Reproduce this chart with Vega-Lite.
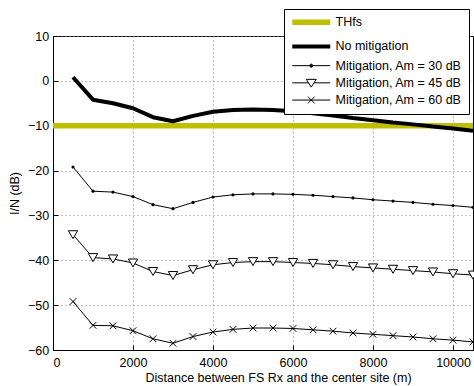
{
  "$schema": "https://vega.github.io/schema/vega-lite/v6.json",
  "width": 420,
  "height": 314,
  "autosize": {"type": "none"},
  "padding": {"left": 53, "top": 36, "right": 1, "bottom": 36},
  "config": {
    "font": "Liberation Sans",
    "view": {"stroke": "black", "strokeWidth": 1},
    "axis": {
      "domainColor": "black", "tickColor": "black", "labelColor": "black", "titleColor": "black",
      "labelFontSize": 12.5, "titleFontSize": 12.5, "titleFontWeight": "normal",
      "gridColor": "#8a8a8a", "gridDash": [1, 3], "gridWidth": 1,
      "tickSize": -5
    }
  },
  "datasets": {
    "d": [
      {"s": "THfs", "x": 0, "y": -10}, {"s": "THfs", "x": 10500, "y": -10},
      {"s": "No mitigation", "x": 500, "y": 0.8}, {"s": "No mitigation", "x": 1000, "y": -4.2}, {"s": "No mitigation", "x": 1500, "y": -5.0}, {"s": "No mitigation", "x": 2000, "y": -6.1}, {"s": "No mitigation", "x": 2500, "y": -8.1}, {"s": "No mitigation", "x": 3000, "y": -9.0}, {"s": "No mitigation", "x": 3500, "y": -7.8}, {"s": "No mitigation", "x": 4000, "y": -6.9}, {"s": "No mitigation", "x": 4500, "y": -6.5}, {"s": "No mitigation", "x": 5000, "y": -6.4}, {"s": "No mitigation", "x": 5500, "y": -6.5}, {"s": "No mitigation", "x": 6000, "y": -6.8}, {"s": "No mitigation", "x": 6500, "y": -7.2}, {"s": "No mitigation", "x": 7000, "y": -7.7}, {"s": "No mitigation", "x": 7500, "y": -8.3}, {"s": "No mitigation", "x": 8000, "y": -8.8}, {"s": "No mitigation", "x": 8500, "y": -9.3}, {"s": "No mitigation", "x": 9000, "y": -9.7}, {"s": "No mitigation", "x": 9500, "y": -10.2}, {"s": "No mitigation", "x": 10000, "y": -10.6}, {"s": "No mitigation", "x": 10500, "y": -11.1},
      {"s": "Mitigation, Am = 30 dB", "x": 500, "y": -19.2}, {"s": "Mitigation, Am = 30 dB", "x": 1000, "y": -24.6}, {"s": "Mitigation, Am = 30 dB", "x": 1500, "y": -24.8}, {"s": "Mitigation, Am = 30 dB", "x": 2000, "y": -25.8}, {"s": "Mitigation, Am = 30 dB", "x": 2500, "y": -27.6}, {"s": "Mitigation, Am = 30 dB", "x": 3000, "y": -28.5}, {"s": "Mitigation, Am = 30 dB", "x": 3500, "y": -27.1}, {"s": "Mitigation, Am = 30 dB", "x": 4000, "y": -25.9}, {"s": "Mitigation, Am = 30 dB", "x": 4500, "y": -25.4}, {"s": "Mitigation, Am = 30 dB", "x": 5000, "y": -25.2}, {"s": "Mitigation, Am = 30 dB", "x": 5500, "y": -25.2}, {"s": "Mitigation, Am = 30 dB", "x": 6000, "y": -25.3}, {"s": "Mitigation, Am = 30 dB", "x": 6500, "y": -25.5}, {"s": "Mitigation, Am = 30 dB", "x": 7000, "y": -25.8}, {"s": "Mitigation, Am = 30 dB", "x": 7500, "y": -26.1}, {"s": "Mitigation, Am = 30 dB", "x": 8000, "y": -26.5}, {"s": "Mitigation, Am = 30 dB", "x": 8500, "y": -26.8}, {"s": "Mitigation, Am = 30 dB", "x": 9000, "y": -27.1}, {"s": "Mitigation, Am = 30 dB", "x": 9500, "y": -27.5}, {"s": "Mitigation, Am = 30 dB", "x": 10000, "y": -27.8}, {"s": "Mitigation, Am = 30 dB", "x": 10500, "y": -28.2},
      {"s": "Mitigation, Am = 45 dB", "x": 500, "y": -34.3}, {"s": "Mitigation, Am = 45 dB", "x": 1000, "y": -39.4}, {"s": "Mitigation, Am = 45 dB", "x": 1500, "y": -39.7}, {"s": "Mitigation, Am = 45 dB", "x": 2000, "y": -40.6}, {"s": "Mitigation, Am = 45 dB", "x": 2500, "y": -42.5}, {"s": "Mitigation, Am = 45 dB", "x": 3000, "y": -43.4}, {"s": "Mitigation, Am = 45 dB", "x": 3500, "y": -42.1}, {"s": "Mitigation, Am = 45 dB", "x": 4000, "y": -41.0}, {"s": "Mitigation, Am = 45 dB", "x": 4500, "y": -40.5}, {"s": "Mitigation, Am = 45 dB", "x": 5000, "y": -40.3}, {"s": "Mitigation, Am = 45 dB", "x": 5500, "y": -40.3}, {"s": "Mitigation, Am = 45 dB", "x": 6000, "y": -40.5}, {"s": "Mitigation, Am = 45 dB", "x": 6500, "y": -40.7}, {"s": "Mitigation, Am = 45 dB", "x": 7000, "y": -41.0}, {"s": "Mitigation, Am = 45 dB", "x": 7500, "y": -41.4}, {"s": "Mitigation, Am = 45 dB", "x": 8000, "y": -41.7}, {"s": "Mitigation, Am = 45 dB", "x": 8500, "y": -42.0}, {"s": "Mitigation, Am = 45 dB", "x": 9000, "y": -42.3}, {"s": "Mitigation, Am = 45 dB", "x": 9500, "y": -42.6}, {"s": "Mitigation, Am = 45 dB", "x": 10000, "y": -43.0}, {"s": "Mitigation, Am = 45 dB", "x": 10500, "y": -43.3},
      {"s": "Mitigation, Am = 60 dB", "x": 500, "y": -49.2}, {"s": "Mitigation, Am = 60 dB", "x": 1000, "y": -54.5}, {"s": "Mitigation, Am = 60 dB", "x": 1500, "y": -54.6}, {"s": "Mitigation, Am = 60 dB", "x": 2000, "y": -55.7}, {"s": "Mitigation, Am = 60 dB", "x": 2500, "y": -57.5}, {"s": "Mitigation, Am = 60 dB", "x": 3000, "y": -58.5}, {"s": "Mitigation, Am = 60 dB", "x": 3500, "y": -57.0}, {"s": "Mitigation, Am = 60 dB", "x": 4000, "y": -56.0}, {"s": "Mitigation, Am = 60 dB", "x": 4500, "y": -55.4}, {"s": "Mitigation, Am = 60 dB", "x": 5000, "y": -55.1}, {"s": "Mitigation, Am = 60 dB", "x": 5500, "y": -55.1}, {"s": "Mitigation, Am = 60 dB", "x": 6000, "y": -55.2}, {"s": "Mitigation, Am = 60 dB", "x": 6500, "y": -55.5}, {"s": "Mitigation, Am = 60 dB", "x": 7000, "y": -55.8}, {"s": "Mitigation, Am = 60 dB", "x": 7500, "y": -56.2}, {"s": "Mitigation, Am = 60 dB", "x": 8000, "y": -56.5}, {"s": "Mitigation, Am = 60 dB", "x": 8500, "y": -56.8}, {"s": "Mitigation, Am = 60 dB", "x": 9000, "y": -57.1}, {"s": "Mitigation, Am = 60 dB", "x": 9500, "y": -57.5}, {"s": "Mitigation, Am = 60 dB", "x": 10000, "y": -57.8}, {"s": "Mitigation, Am = 60 dB", "x": 10500, "y": -58.2}
    ]
  },
  "data": {"name": "d"},
  "encoding": {
    "x": {
      "field": "x", "type": "quantitative",
      "scale": {"domain": [0, 10500], "nice": false, "zero": false},
      "axis": {"values": [0, 2000, 4000, 6000, 8000, 10000], "format": "d", "labelPadding": 11, "title": "Distance between FS Rx and the center site (m)", "titleX": 225, "titleY": 31.5, "titleBaseline": "alphabetic"}
    },
    "y": {
      "field": "y", "type": "quantitative",
      "scale": {"domain": [-60, 10], "nice": false, "zero": false},
      "axis": {"values": [-60, -50, -40, -30, -20, -10, 0, 10], "format": "d", "labelPadding": 9.3, "title": "I/N (dB)", "titleX": -39, "titleY": 157, "titleAngle": -90, "titleBaseline": "middle", "titleAlign": "center"}
    }
  },
  "layer": [
    {
      "transform": [{"filter": "datum.s === 'THfs'"}],
      "mark": {"type": "line", "color": "#BFBF00", "strokeWidth": 5.5, "strokeCap": "butt"}
    },
    {
      "transform": [{"filter": "datum.s === 'No mitigation'"}],
      "mark": {"type": "line", "color": "black", "strokeWidth": 4, "strokeJoin": "round", "strokeCap": "butt"}
    },
    {
      "transform": [{"filter": "indexof(datum.s, 'Am') >= 0"}],
      "mark": {"type": "line", "color": "black", "strokeWidth": 1},
      "encoding": {"detail": {"field": "s"}}
    },
    {
      "transform": [{"filter": "datum.s === 'Mitigation, Am = 30 dB'"}],
      "mark": {"type": "point", "shape": "circle", "filled": true, "color": "black", "size": 10, "opacity": 1}
    },
    {
      "transform": [{"filter": "datum.s === 'Mitigation, Am = 45 dB'"}],
      "mark": {"type": "point", "shape": "triangle-down", "fill": "white", "stroke": "black", "strokeWidth": 1, "size": 85, "opacity": 1, "fillOpacity": 1}
    },
    {
      "transform": [{"filter": "datum.s === 'Mitigation, Am = 60 dB'"}],
      "mark": {"type": "point", "shape": "M-1,-1L1,1M-1,1L1,-1", "filled": false, "stroke": "black", "strokeWidth": 1, "size": 45, "opacity": 1}
    },
    {
      "transform": [{"filter": "false"}],
      "mark": {"type": "point", "opacity": 1, "filled": false},
      "encoding": {
        "shape": {
          "field": "s", "type": "nominal",
          "scale": {
            "domain": ["THfs", "No mitigation", "Mitigation, Am = 30 dB", "Mitigation, Am = 45 dB", "Mitigation, Am = 60 dB"],
            "range": ["M-1,0H6.6", "M-1,0H6.6", "M-1,0H6.6M2.5,0a0.3,0.3 0 1,0 0.6,0a0.3,0.3 0 1,0 -0.6,0", "M-1,0H2.252M3.348,0H6.6M1.8,-0.7H3.8L2.8,0.85Z", "M-1,0H6.6M2.12,-0.68L3.48,0.68M2.12,0.68L3.48,-0.68"]
          },
          "legend": {
            "title": null, "orient": "none", "legendX": 231, "legendY": -27,
            "strokeColor": "black", "fillColor": "white", "padding": 7,
            "symbolSize": 100, "labelOffset": 32, "labelFontSize": 12.5, "labelColor": "black",
            "rowPadding": 4.2, "labelLimit": 300, "cornerRadius": 0,
            "encoding": {
              "symbols": {
                "strokeWidth": {"value": {"expr": "datum.value === 'THfs' ? 5.5 : datum.value === 'No mitigation' ? 4 : 1"}}
              }
            }
          }
        },
        "stroke": {
          "field": "s", "type": "nominal",
          "scale": {
            "domain": ["THfs", "No mitigation", "Mitigation, Am = 30 dB", "Mitigation, Am = 45 dB", "Mitigation, Am = 60 dB"],
            "range": ["#BFBF00", "black", "black", "black", "black"]
          }
        },
        "fill": {
          "field": "s", "type": "nominal",
          "scale": {
            "domain": ["THfs", "No mitigation", "Mitigation, Am = 30 dB", "Mitigation, Am = 45 dB", "Mitigation, Am = 60 dB"],
            "range": ["transparent", "transparent", "black", "white", "transparent"]
          }
        }
      }
    }
  ]
}
